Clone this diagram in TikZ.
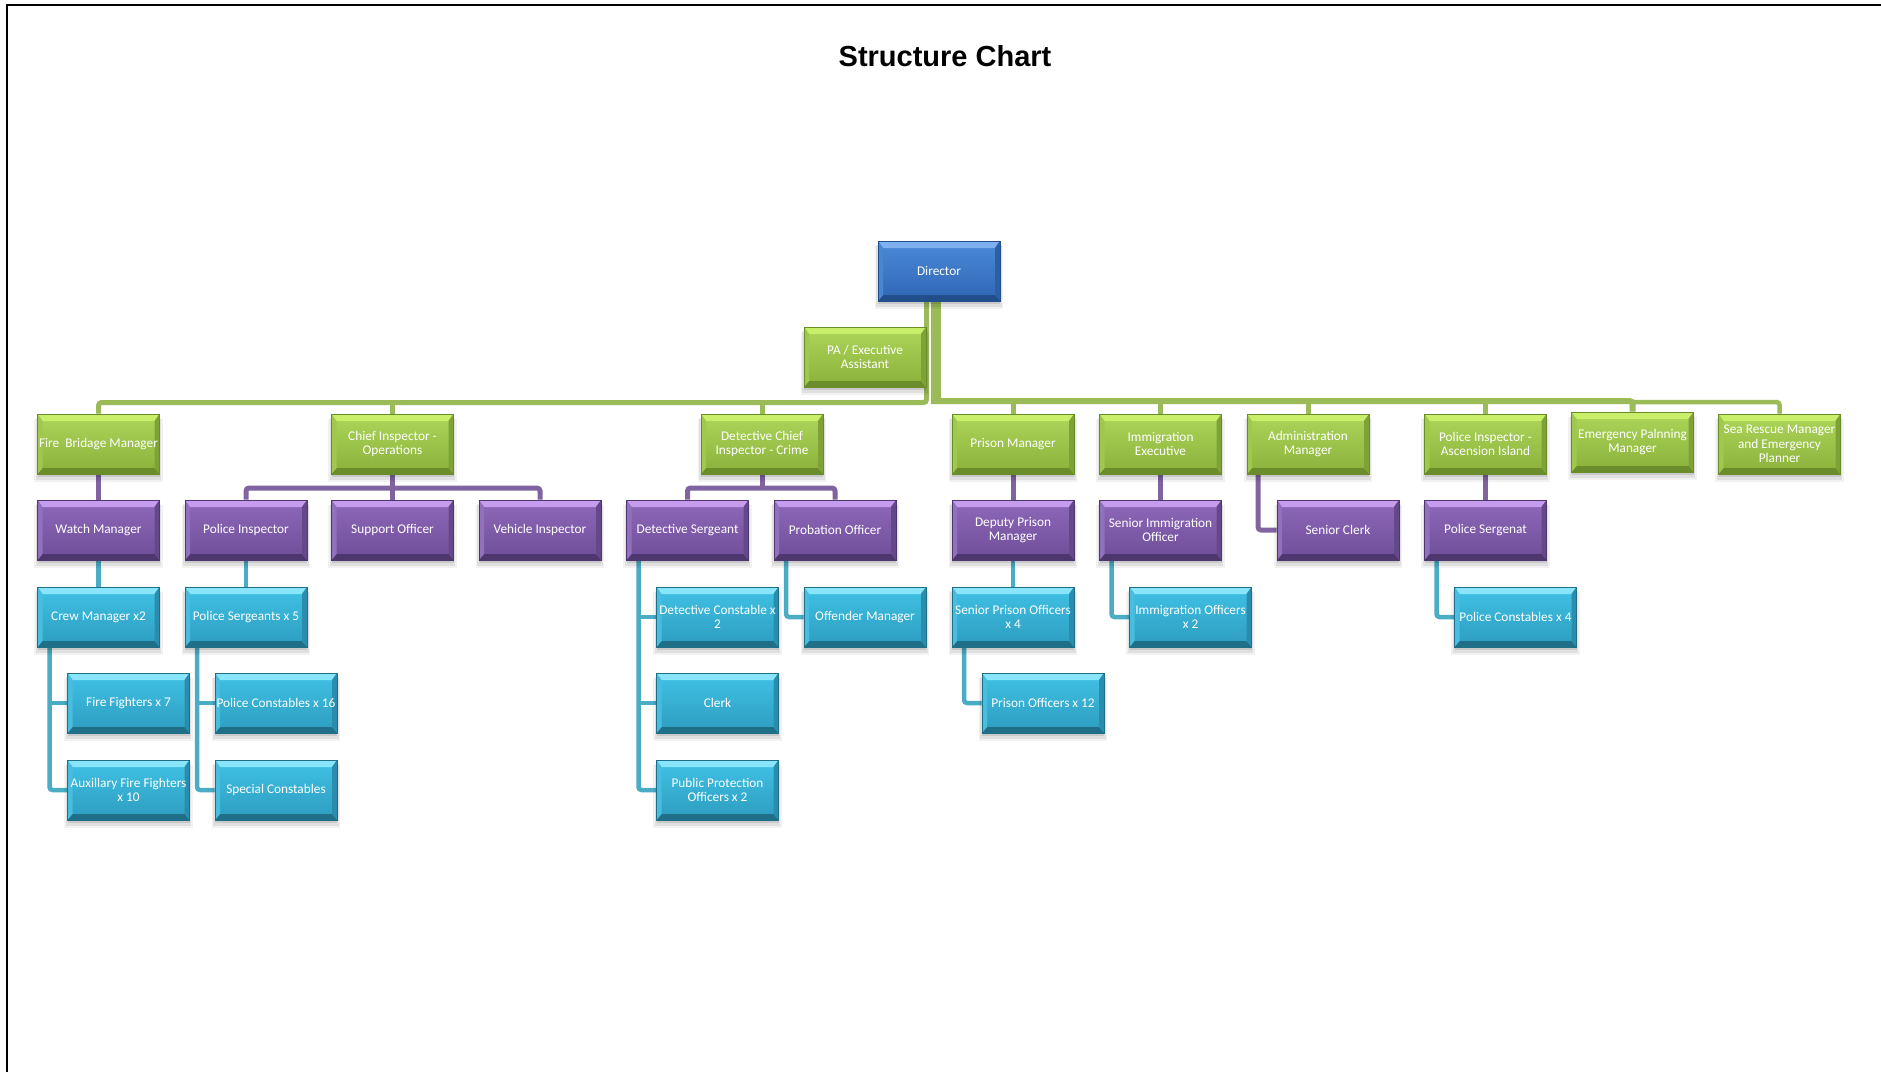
\documentclass[tikz,border=0pt]{standalone}
\usepackage{fontspec}
\setmainfont{Carlito}
\newfontfamily\titlefont{Liberation Sans}
\usetikzlibrary{shadows,calc}
% green
\definecolor{gT}{HTML}{ADD65A}\definecolor{gB}{HTML}{8AB03A}\definecolor{gH}{HTML}{C8EE6A}
\definecolor{gD}{HTML}{6B8C2A}\definecolor{gL}{HTML}{A0C84C}\definecolor{gR}{HTML}{7EA236}
% purple
\definecolor{pT}{HTML}{8F68BA}\definecolor{pB}{HTML}{6E4E98}\definecolor{pH}{HTML}{C69DEE}
\definecolor{pD}{HTML}{4E376F}\definecolor{pL}{HTML}{9170BE}\definecolor{pR}{HTML}{654889}
% cyan
\definecolor{cT}{HTML}{40C2E5}\definecolor{cB}{HTML}{2D9CBF}\definecolor{cH}{HTML}{88E5FB}
\definecolor{cD}{HTML}{1F6F89}\definecolor{cL}{HTML}{47BEDF}\definecolor{cR}{HTML}{2A8DAE}
% blue
\definecolor{bT}{HTML}{4B8AD8}\definecolor{bB}{HTML}{2F66B4}\definecolor{bH}{HTML}{7FB1F0}
\definecolor{bD}{HTML}{234E8C}\definecolor{bL}{HTML}{4A86D0}\definecolor{bR}{HTML}{2C5FA6}
% connectors
\definecolor{conG}{HTML}{9BBB59}\definecolor{conP}{HTML}{8064A2}\definecolor{conC}{HTML}{4BACC6}
\pgfdeclarelayer{bg}
\pgfsetlayers{bg,main}
\tikzset{
  bevel/.style={path picture={
    \fill[#1H] (path picture bounding box.north west) -- (path picture bounding box.north east)
      -- ([xshift=-5pt,yshift=-7pt]path picture bounding box.north east)
      -- ([xshift=5pt,yshift=-7pt]path picture bounding box.north west) -- cycle;
    \fill[#1D] (path picture bounding box.south west) -- (path picture bounding box.south east)
      -- ([xshift=-5pt,yshift=6pt]path picture bounding box.south east)
      -- ([xshift=5pt,yshift=6pt]path picture bounding box.south west) -- cycle;
    \fill[#1L] (path picture bounding box.north west) -- ([xshift=5pt,yshift=-7pt]path picture bounding box.north west)
      -- ([xshift=5pt,yshift=6pt]path picture bounding box.south west) -- (path picture bounding box.south west) -- cycle;
    \fill[#1R] (path picture bounding box.north east) -- ([xshift=-5pt,yshift=-7pt]path picture bounding box.north east)
      -- ([xshift=-5pt,yshift=6pt]path picture bounding box.south east) -- (path picture bounding box.south east) -- cycle;
  }},
  softshadow/.style={
    general shadow={fill=black, fill opacity=0.05, shadow yshift=-6pt, shadow scale=1.05},
    general shadow={fill=black, fill opacity=0.07, shadow yshift=-5pt, shadow scale=1.025},
    general shadow={fill=black, fill opacity=0.10, shadow yshift=-3pt},
  },
  box/.style={rectangle, minimum width=122pt, minimum height=60pt, inner sep=0pt, align=center,
    text=white, font=\fontsize{13.3}{14.4}\selectfont, top color=#1T, bottom color=#1B,
    draw=#1D, line width=0.6pt, softshadow, bevel=#1},
  gbox/.style={box=g}, pbox/.style={box=p}, cbox/.style={box=c}, bbox/.style={box=b},
  gline/.style={draw=conG, line width=5pt},
  pline/.style={draw=conP, line width=5pt},
  cline/.style={draw=conC, line width=4.5pt},
}
\begin{document}
\begin{tikzpicture}[x=1pt, y=-1pt]
\useasboundingbox (0,0) rectangle (1881,1072);
\begin{pgfonlayer}{bg}
\fill[white] (0,0) rectangle (1881,1072);
\end{pgfonlayer}
\draw[line width=2.5pt] (7,1072) -- (7,5) -- (1881,5);
\node[font=\titlefont\bfseries\fontsize{29}{34}\selectfont, anchor=base] (title) at (945,66) {Structure Chart};

% top
\node[bbox] (dir) at (939,271) {Director};
\node[gbox] (pa) at (865,357) {PA / Executive\\Assistant};
% level 1
\node[gbox] (fb) at (98.5,444) {Fire\ \ Bridage Manager};
\node[gbox] (ci) at (392.5,444) {Chief Inspector -\\Operations};
\node[gbox] (dci) at (762,444) {Detective Chief\\Inspector - Crime};
\node[gbox] (pm) at (1013,444) {Prison Manager};
\node[gbox] (ie) at (1160.5,444) {Immigration\\Executive};
\node[gbox] (am) at (1308,444) {Administration\\Manager};
\node[gbox] (pia) at (1485.5,444) {Police Inspector -\\Ascension Island};
\node[gbox] (em) at (1632.5,442) {Emergency Palnning\\Manager};
\node[gbox] (sr) at (1779.5,444) {Sea Rescue Manager\\and Emergency\\Planner};
% level 2
\node[pbox] (wm) at (98.5,530) {Watch Manager};
\node[pbox] (pi) at (246,530) {Police Inspector};
\node[pbox] (so) at (392.5,530) {Support Officer};
\node[pbox] (vi) at (540,530) {Vehicle Inspector};
\node[pbox] (ds) at (687.5,530) {Detective Sergeant};
\node[pbox] (po) at (835,530) {Probation Officer};
\node[pbox] (dpm) at (1013,530) {Deputy Prison\\Manager};
\node[pbox] (sio) at (1160.5,530) {Senior Immigration\\Officer};
\node[pbox] (scl) at (1338,530) {Senior Clerk};
\node[pbox] (psg) at (1485.5,530) {Police Sergenat};
% level 3
\node[cbox] (cm) at (98.5,617) {Crew Manager x2};
\node[cbox] (ps) at (246,617) {Police Sergeants x 5};
\node[cbox] (dc) at (717.5,617) {Detective Constable x\\2};
\node[cbox] (om) at (865,617) {Offender Manager};
\node[cbox] (spo) at (1013,617) {Senior Prison Officers\\x 4};
\node[cbox] (io) at (1190.5,617) {Immigration Officers\\x 2};
\node[cbox] (pc4) at (1515.5,617) {Police Constables x 4};
% level 4
\node[cbox] (ff) at (128.5,703) {Fire Fighters x 7};
\node[cbox] (pc16) at (276,703) {Police Constables x 16};
\node[cbox] (clerk) at (717.5,703) {Clerk};
\node[cbox] (po12) at (1043,703) {Prison Officers x 12};
% level 5
\node[cbox] (aux) at (128.5,790) {Auxillary Fire Fighters\\x 10};
\node[cbox] (sc) at (276,790) {Special Constables};
\node[cbox] (ppo) at (717.5,790) {Public Protection\\Officers x 2};

\begin{pgfonlayer}{bg}
\coordinate (gbusL) at (0,402.5);
\coordinate (gbusR) at (0,401);
\coordinate (gbusX) at (0,402);
\coordinate (pbus) at (0,488);
\coordinate (dthin) at ([xshift=-12.5pt]dir.south);
\coordinate (dthick) at ([xshift=-3pt]dir.south);
% green
\draw[gline, rounded corners=3pt] (fb.north) |- (dthin |- gbusL) -- (dthin);
\draw[gline] (ci.north) -- (ci.north |- gbusL);
\draw[gline] (dci.north) -- (dci.north |- gbusL);
\draw[gline, line width=10pt, shorten >=-3pt] (dthick) -- (dthick |- gbusR);
\draw[gline, line width=6pt, rounded corners=3pt, shorten <=-5pt] (dthick |- gbusR) -- (em.north |- gbusR) -- (em.north);
\draw[gline] (pm.north) -- (pm.north |- gbusR);
\draw[gline] (ie.north) -- (ie.north |- gbusR);
\draw[gline] (am.north) -- (am.north |- gbusR);
\draw[gline] (pia.north) -- (pia.north |- gbusR);
\draw[gline, line width=4.5pt, rounded corners=3pt] (em.north |- gbusX) -| (sr.north);
% purple
\draw[pline] (fb.south) -- (wm.north);
\draw[pline, rounded corners=3pt] (pi.north) |- (ci.south |- pbus) -| (vi.north);
\draw[pline] (ci.south) -- (so.north);
\draw[pline, rounded corners=3pt] (ds.north) |- (dci.south |- pbus) -| (po.north);
\draw[pline] (dci.south) -- (dci.south |- pbus);
\draw[pline] (pm.south) -- (dpm.north);
\draw[pline] (ie.south) -- (sio.north);
\draw[pline] (pia.south) -- (psg.north);
\coordinate (amx) at ([xshift=-50pt]am.south);
\draw[pline, rounded corners=3pt] (amx) |- (scl.west);
% cyan
\draw[cline] (wm.south) -- (cm.north);
\draw[cline] (pi.south) -- (ps.north);
\draw[cline] (dpm.south) -- (spo.north);
\coordinate (cmx) at ([xshift=-49pt]cm.south);
\draw[cline, rounded corners=3pt] (cmx) |- (aux.west);
\draw[cline] (cmx |- ff.west) -- (ff.west);
\coordinate (psx) at ([xshift=-49pt]ps.south);
\draw[cline, rounded corners=3pt] (psx) |- (sc.west);
\draw[cline] (psx |- pc16.west) -- (pc16.west);
\coordinate (dsx) at ([xshift=-49pt]ds.south);
\draw[cline, rounded corners=3pt] (dsx) |- (ppo.west);
\draw[cline] (dsx |- dc.west) -- (dc.west);
\draw[cline] (dsx |- clerk.west) -- (clerk.west);
\coordinate (pox) at ([xshift=-49pt]po.south);
\draw[cline, rounded corners=3pt] (pox) |- (om.west);
\coordinate (spox) at ([xshift=-49pt]spo.south);
\draw[cline, rounded corners=3pt] (spox) |- (po12.west);
\coordinate (siox) at ([xshift=-49pt]sio.south);
\draw[cline, rounded corners=3pt] (siox) |- (io.west);
\coordinate (psgx) at ([xshift=-49pt]psg.south);
\draw[cline, rounded corners=3pt] (psgx) |- (pc4.west);
\end{pgfonlayer}
\end{tikzpicture}
\end{document}
